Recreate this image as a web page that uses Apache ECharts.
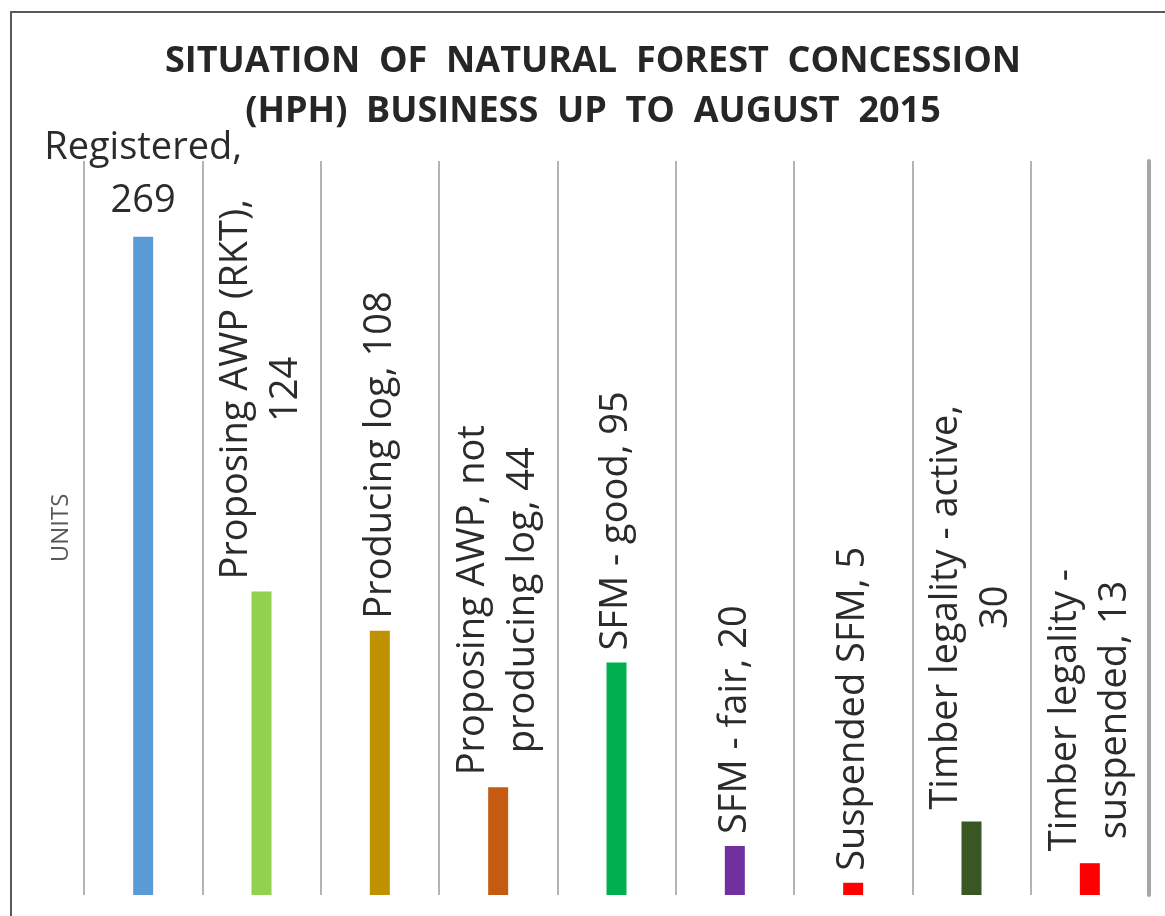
<!DOCTYPE html>
<html>
<head>
<meta charset="utf-8">
<script src="https://cdn.jsdelivr.net/npm/echarts@6/dist/echarts.min.js"></script>
<style>
  html, body { margin: 0; padding: 0; background: #ffffff; overflow: hidden; }
  #wrap { position: relative; width: 1165px; height: 916px; overflow: hidden; }
  #chart { position: absolute; left: 0; top: 0; width: 1165px; height: 916px; }
  #frame { position: absolute; left: 10px; top: 11px; width: 1300px; height: 1000px;
           border-left: 2px solid #595959; border-top: 2px solid #595959; pointer-events: none; }
</style>
</head>
<body>
<div id="wrap">
  <div id="chart"></div>
  <div id="frame"></div>
</div>
<script>
// ---- data ----
const titleLines = ['SITUATION  OF  NATURAL  FOREST  CONCESSION', '(HPH)  BUSINESS  UP  TO  AUGUST  2015'];
const categories = [
  'Registered',
  'Proposing AWP (RKT)',
  'Producing log',
  'Proposing AWP, not\nproducing log',
  'SFM - good',
  'SFM - fair',
  'Suspended SFM',
  'Timber legality - active',
  'Timber legality -\nsuspended'
];
const values = [269, 124, 108, 44, 95, 20, 5, 30, 13];
const valueOnNewLine = [true, true, false, false, false, false, false, true, false];
const barColors = ['#5B9BD5', '#92D050', '#BF9000', '#C55A11', '#00B050', '#7030A0', '#FF0000', '#385723', '#FF0000'];
const yAxisName = 'UNITS';
const yMax = 300;

// ---- chart ----
const FONT = '"Open Sans", "DejaVu Sans", sans-serif';
const LABEL_COLOR = '#2b2b2b';
const GRID_COLOR = '#b3b3b3';
const chart = echarts.init(document.getElementById('chart'), null, { renderer: 'canvas' });

function labelText(i) {
  return categories[i] + ',' + (valueOnNewLine[i] ? '\n' : ' ') + values[i];
}

const seriesData = values.map((v, i) => {
  const horizontal = i === 0;
  return {
    value: v,
    itemStyle: { color: barColors[i] },
    label: horizontal ? {
      show: true, position: 'top', rotate: 0, distance: 9, align: 'center', verticalAlign: 'bottom',
      formatter: () => labelText(i), fontFamily: FONT, fontSize: 38, lineHeight: 53, color: LABEL_COLOR
    } : {
      show: true, position: 'top', rotate: 90, distance: 12, align: 'left', verticalAlign: 'middle',
      formatter: () => labelText(i).split('\n').map(s => '{c|' + s + '}').join('\n'),
      rich: { c: { align: 'center', fontFamily: FONT, fontSize: 38, lineHeight: 50, color: LABEL_COLOR } }
    }
  };
});

chart.setOption({
  backgroundColor: '#ffffff',
  animation: false,
  title: {
    text: titleLines.join('\n'), left: 588, top: 32, textAlign: 'center',
    textStyle: { fontFamily: FONT, fontWeight: 'bold', fontSize: 36, lineHeight: 50, color: '#262626' }
  },
  grid: { left: 84, right: 16, top: 161, bottom: 21, containLabel: false },
  xAxis: {
    type: 'category', data: categories, boundaryGap: true,
    axisLine: { show: false }, axisTick: { show: false, interval: 0 }, axisLabel: { show: false, interval: 0 },
    splitLine: { show: true, interval: 0, lineStyle: { color: GRID_COLOR, width: 2 } }
  },
  yAxis: [{
    type: 'value', min: 0, max: yMax, interval: 50,
    name: yAxisName, nameLocation: 'middle', nameRotate: 90, nameGap: 11,
    nameTextStyle: { fontFamily: FONT, fontSize: 24, color: '#595959' },
    axisLine: { show: false }, axisTick: { show: false }, axisLabel: { show: false }, splitLine: { show: false }
  }, {
    type: 'value', position: 'right', min: 0, max: yMax, interval: 50,
    axisLine: { show: true, onZero: false, lineStyle: { color: '#a6a6a6', width: 4 } },
    axisTick: { show: false }, axisLabel: { show: false }, splitLine: { show: false }
  }],
  series: [{ type: 'bar', data: seriesData, barWidth: 20 }]
});
</script>
</body>
</html>
